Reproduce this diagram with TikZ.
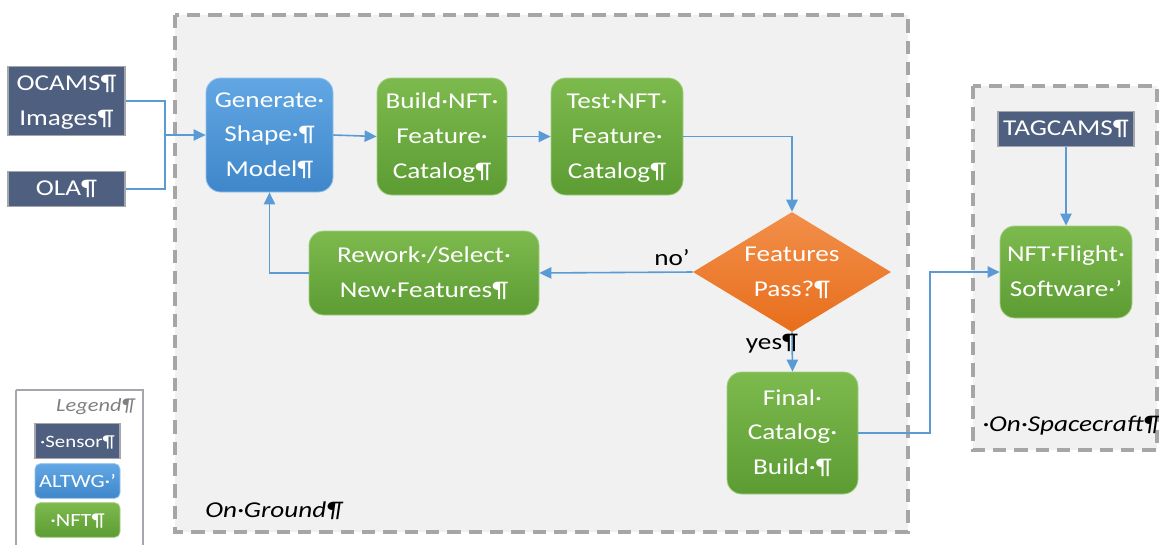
\documentclass[tikz,border=0pt]{standalone}
\usepackage{fontspec}
\usepackage{graphicx}
\setmainfont{Carlito}
\usetikzlibrary{shapes.geometric,arrows.meta}
\definecolor{sensorc}{HTML}{4E5F80}
\definecolor{sensorb}{HTML}{A3A6AD}
\definecolor{bluetop}{HTML}{62A7E4}
\definecolor{bluebot}{HTML}{3F87CA}
\definecolor{greentop}{HTML}{7DBA4E}
\definecolor{greenbot}{HTML}{5C9C33}
\definecolor{orangetop}{HTML}{F28F4A}
\definecolor{orangebot}{HTML}{E86E1C}
\definecolor{arrowc}{HTML}{5B9BD5}
\definecolor{dashc}{HTML}{A6A6A6}
\definecolor{groundc}{HTML}{F1F1F1}
\newcommand\tx[2][17]{\scalebox{1.2}[1]{\fontsize{#1}{26}\selectfont\begin{tabular}{@{}c@{}}#2\end{tabular}}}
\begin{document}
\begin{tikzpicture}[x=0.75pt,y=-0.75pt,
  sensorbox/.style={rectangle,fill=sensorc,draw=sensorb,line width=1pt,text=white,inner sep=0pt},
  altbox/.style={rectangle,rounded corners=11pt,top color=bluetop,bottom color=bluebot,draw=bluetop!70!white,line width=0.6pt,text=white,inner sep=0pt},
  nftbox/.style={rectangle,rounded corners=11pt,top color=greentop,bottom color=greenbot,draw=greentop!70!white,line width=0.6pt,text=white,inner sep=0pt},
  decbox/.style={diamond,aspect=1.65,top color=orangetop,bottom color=orangebot,text=white,inner sep=-6pt},
  arr/.style={draw=arrowc,line width=1.2pt,-{Triangle[length=9pt,width=8.5pt]}},
  conn/.style={draw=arrowc,line width=1.2pt},
  region/.style={draw=dashc,line width=2.6pt,dash pattern=on 10pt off 6pt,fill=groundc},
  lab/.style={inner sep=0pt,text=black}]
\useasboundingbox (0,0) rectangle (1159,544);
% regions
\path[region] (175,15) rectangle (908,532);
\path[region] (973,86) rectangle (1157,450);
\node[lab,anchor=west] (ground) at (205,511) {\tx{\itshape On·Ground¶}};
\node[lab,anchor=west] (space) at (982,425) {\tx{\itshape ·On·Spacecraft¶}};
% legend
\draw[draw=sensorb,line width=1pt] (16,390) -- (16,560) (143,560) -- (143,390) -- (16,390);
\node[lab,anchor=east,text=gray] (legend) at (135,405) {\tx[14]{\itshape Legend¶}};
\node[sensorbox,minimum width=63.75pt,minimum height=21pt] (lsensor) at (77.5,441) {\tx[13]{·Sensor¶}};
\node[altbox,rounded corners=4pt,minimum width=63.75pt,minimum height=24pt] (lalt) at (77.5,481) {\tx[14]{ALTWG·’}};
\node[nftbox,rounded corners=4pt,minimum width=63.75pt,minimum height=22.5pt] (lnft) at (77.5,520) {\tx[14]{·NFT¶}};
% sensors
\node[sensorbox,minimum width=87.75pt,minimum height=51pt] (ocams) at (66.5,101) {\tx{OCAMS¶\\Images¶}};
\node[sensorbox,minimum width=87.75pt,minimum height=25.5pt] (ola) at (66.5,189) {\tx{OLA¶}};
\node[sensorbox,minimum width=102pt,minimum height=25.5pt] (tag) at (1066,129) {\tx{TAGCAMS¶}};
% process
\node[altbox,minimum width=95.25pt,minimum height=85.5pt] (gen) at (269.5,135) {\tx{Generate·\\Shape·¶\\Model¶}};
\node[nftbox,minimum width=97.5pt,minimum height=87.75pt] (build) at (442,136.5) {\tx{Build·NFT·\\Feature·\\Catalog¶}};
\node[nftbox,minimum width=99pt,minimum height=87.75pt] (test) at (617,136.5) {\tx{Test·NFT·\\Feature·\\Catalog¶}};
\node[decbox,minimum width=148.5pt,minimum height=90pt] (dec) at (792,272) {\tx{Features\\Pass?¶}};
\node[nftbox,minimum width=172.5pt,minimum height=63pt] (rework) at (424,273) {\tx{Rework·/Select·\\New·Features¶}};
\node[nftbox,minimum width=98.25pt,minimum height=91.5pt] (final) at (792.5,433) {\tx{Final·\\Catalog·\\Build·¶}};
\node[nftbox,minimum width=99pt,minimum height=69pt] (flight) at (1066,272) {\tx{NFT·Flight·\\Software·’}};
% connectors
\coordinate (join) at (165,135);
\coordinate (bend) at (930,350);
\draw[conn] (ocams.east) -| (join);
\draw[conn] (ola.east) -| (join);
\draw[arr] (join) -- (gen.west);
\draw[arr] (gen.east) -- (build.west);
\draw[arr] (build.east) -- (test.west);
\draw[arr] (test.east) -| (dec.north);
\draw[arr] (dec.west) -- (rework.east);
\draw[arr] (rework.west) -| (gen.south);
\draw[arr] (dec.south) -- (final.north);
\draw[arr] (final.east) -| (bend) |- (flight.west);
\draw[arr] (tag.south) -- (flight.north);
\node[lab] (no) at (672,259) {\tx{no’}};
\node[lab] (yes) at (772,343) {\tx{yes¶}};
\end{tikzpicture}
\end{document}
